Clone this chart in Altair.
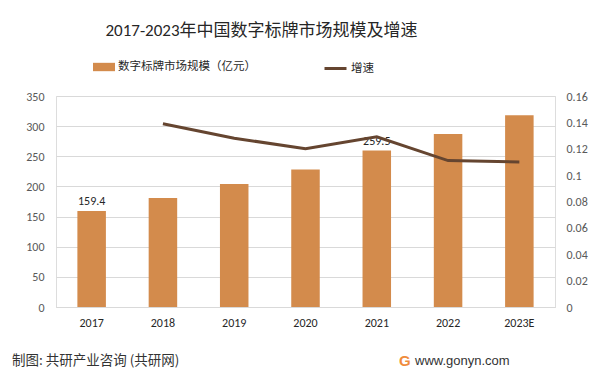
import altair as alt
import pandas as pd

years = ["2017", "2018", "2019", "2020", "2021", "2022", "2023E"]
market = [159.4, 181, 204, 228, 259.5, 287, 318]
growth = [None, 0.139, 0.128, 0.120, 0.129, 0.111, 0.110]
bar_labels = ["159.4", "", "", "", "259.5", "", ""]
bar_name = "数字标牌市场规模（亿元）"
line_name = "增速"
title_text = "2017-2023年中国数字标牌市场规模及增速"
footer_left = "制图: 共研产业咨询 (共研网)"
footer_right = "www.gonyn.com"

FONT = "Calibri, Carlito, 'Noto Sans CJK SC', sans-serif"
CJK = "'Noto Sans CJK SC', sans-serif"
BAR_COLOR = "#D38B4C"
LINE_COLOR = "#654530"

df = pd.DataFrame({"year": years, "market": market, "label": bar_labels,
                   "s": [bar_name] * len(years)})
dl = pd.DataFrame({"year": years[1:], "growth": growth[1:], "s": [line_name] * 6})

x_axis = alt.Axis(title=None, labelAngle=0, ticks=False, grid=False, domainColor="#D9D9D9",
                  labelFontSize=12, labelColor="#262626", labelPadding=10, labelFont=FONT)
x_scale = alt.Scale(paddingInner=0.6, paddingOuter=0.3)

left_axis = alt.Axis(title=None, values=[0, 50, 100, 150, 200, 250, 300, 350],
                     domain=False, domainOpacity=0, domainColor="transparent",
                     ticks=False, tickOpacity=0, gridColor="#D9D9D9",
                     labelFontSize=12, labelColor="#595959", labelPadding=12,
                     labelFont=FONT)
y_scale = alt.Scale(domain=[0, 350])

bars = alt.Chart(df).mark_bar(color=BAR_COLOR).encode(
    x=alt.X("year:N", sort=years, scale=x_scale, axis=x_axis),
    y=alt.Y("market:Q", scale=y_scale, axis=left_axis),
    color=alt.Color("s:N", scale=alt.Scale(range=[BAR_COLOR]),
                    legend=alt.Legend(title=None, orient="none", legendX=37, legendY=-40,
                                      symbolType="M-1,-0.38H1V0.38H-1Z", symbolSize=484,
                                      symbolStrokeWidth=0, labelFontSize=11.5, labelFont=CJK,
                                      labelColor="#262626", labelLimit=300, labelOffset=3)),
)
labels = alt.Chart(df).mark_text(dy=-10, fontSize=12, font=FONT, color="#262626").encode(
    x=alt.X("year:N", sort=years, scale=x_scale, axis=x_axis),
    y=alt.Y("market:Q", scale=y_scale, axis=left_axis),
    text="label:N",
)
left = alt.layer(bars, labels)

line = alt.Chart(dl).mark_line(strokeWidth=3, color=LINE_COLOR).encode(
    x=alt.X("year:N", sort=years, scale=x_scale, axis=x_axis),
    y=alt.Y("growth:Q", scale=alt.Scale(domain=[0, 0.16]),
            axis=alt.Axis(title=None, orient="right",
                          values=[0, 0.02, 0.04, 0.06, 0.08, 0.1, 0.12, 0.14, 0.16],
                          labelExpr="'' + datum.value", grid=False,
                          domain=False, domainOpacity=0, domainColor="transparent",
                          ticks=False, tickOpacity=0,
                          labelFontSize=12, labelColor="#595959", labelPadding=11,
                          labelFont=FONT)),
    stroke=alt.Stroke("s:N", scale=alt.Scale(range=[LINE_COLOR]),
                      legend=alt.Legend(title=None, orient="none", legendX=267, legendY=-40,
                                        symbolType="stroke", symbolSize=484, symbolStrokeWidth=3,
                                        labelFontSize=11.5, labelFont=CJK, labelColor="#262626",
                                        labelOffset=3)),
)

foot_l = alt.Chart(pd.DataFrame({"t": [footer_left]})).mark_text(
    align="left", baseline="middle", fontSize=13.5, font=CJK, color="#333333").encode(
    x=alt.value(-44), y=alt.value(265), text="t:N")
foot_logo = alt.Chart(pd.DataFrame({"t": ["G"]})).mark_text(
    align="left", baseline="middle", fontSize=15, fontWeight="bold",
    font="'Liberation Sans', sans-serif", color="#F08C3C").encode(
    x=alt.value(343), y=alt.value(265), text="t:N")
foot_r = alt.Chart(pd.DataFrame({"t": [footer_right]})).mark_text(
    align="left", baseline="middle", fontSize=13, font="'Liberation Sans', sans-serif",
    color="#333333").encode(
    x=alt.value(359), y=alt.value(265), text="t:N")

chart = alt.layer(left, line, foot_l, foot_logo, foot_r).resolve_scale(
    y="independent", color="independent", stroke="independent"
).properties(
    width=499, height=211,
    padding={"left": 48, "top": 88, "right": 50, "bottom": 69},
    autosize=alt.AutoSizeParams(type="none"),
    title=alt.TitleParams(title_text, anchor="middle", dx=-44, dy=-12, fontSize=17,
                          font=FONT, fontWeight="normal", color="#262626"),
).configure_view(stroke="transparent", strokeOpacity=0
).configure_axisY(domain=False, ticks=False
).configure_axisX(grid=False
).configure(background="white")

chart.save("out.html", embed_options={"renderer": "svg", "actions": False})
